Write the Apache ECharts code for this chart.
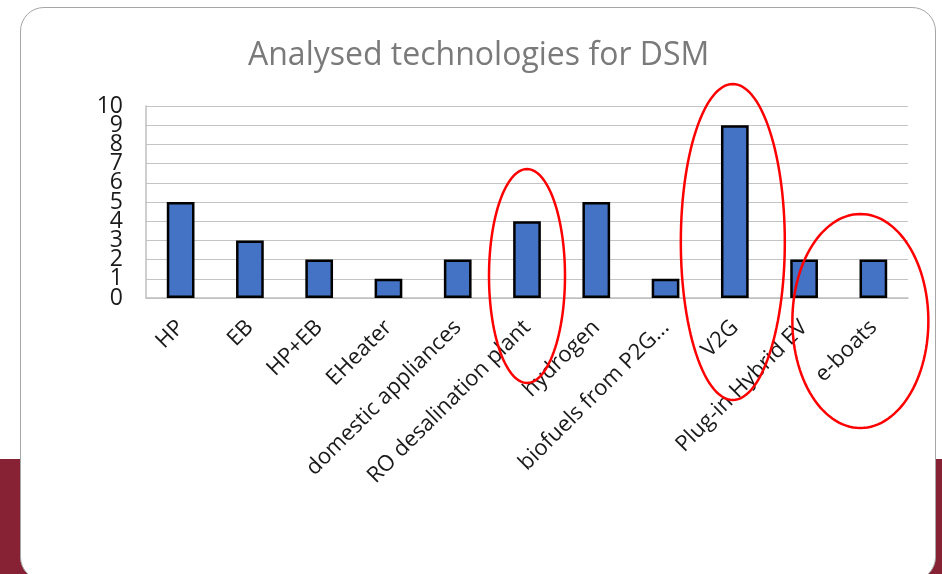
<!DOCTYPE html>
<html><head><meta charset="utf-8">
<script src="https://cdn.jsdelivr.net/npm/echarts@6/dist/echarts.min.js"></script>
<style>
html,body{margin:0;padding:0;width:942px;height:574px;overflow:hidden;background:#fff;}
#band{position:absolute;left:0;top:459px;width:942px;height:115px;background:#862234;}
#card{position:absolute;left:20px;top:7px;width:916px;height:574px;background:#fff;border:1.5px solid #a6a6a6;border-radius:24px;box-sizing:border-box;}
#chart{position:absolute;left:0;top:0;width:942px;height:574px;}
</style></head><body>
<div id="band"></div><div id="card"></div><div id="chart"></div>
<script>
// ---- data ----
const titleText = 'Analysed technologies for DSM';
const categories = ['HP', 'EB', 'HP+EB', 'EHeater', 'domestic appliances', 'RO desalination plant', 'hydrogen', 'biofuels from P2G...', 'V2G', 'Plug-in Hybrid EV', 'e-boats'];
const values = [5, 3, 2, 1, 2, 4, 5, 1, 9, 2, 2];
const yMin = 0, yMax = 10, yStep = 1;
const yTickLabels = ['0', '1', '2', '3', '4', '5', '6', '7', '8', '9', '10'];
// highlighted categories (red annotation ellipses)
const highlighted = ['RO desalination plant', 'V2G', 'e-boats'];

// ---- styling for annotation ellipses (pixel geometry, not data) ----
const ellipseStyle = {
  'RO desalination plant': {dx: 0, cy: 276, rx: 38, ry: 107},
  'V2G': {dx: -2, cy: 242, rx: 52, ry: 158},
  'e-boats': {dx: -13, cy: 321, rx: 68, ry: 107}
};
const gridLeft = 146;

const chart = echarts.init(document.getElementById('chart'), null, {renderer: 'canvas'});
const font = '"Open Sans", "Noto Sans", sans-serif';
chart.setOption({
  backgroundColor: 'transparent',
  animation: false,
  title: {
    text: titleText, left: 243, top: 35,
    textStyle: {fontFamily: font, fontSize: 32, fontWeight: 'normal', color: '#7a7a7a'}
  },
  grid: {left: gridLeft, right: 34, top: 106, bottom: 276, containLabel: false},
  xAxis: {
    type: 'category', data: categories,
    axisLine: {show: true, lineStyle: {color: '#bfbfbf', width: 1.5}},
    axisTick: {show: false},
    axisLabel: {rotate: 45, margin: 26, interval: 0, hideOverlap: false, fontFamily: font, fontSize: 22, color: '#1a1a1a'}
  },
  yAxis: {
    type: 'value', min: yMin, max: yMax, interval: yStep,
    axisLine: {show: true, lineStyle: {color: '#bfbfbf', width: 1.5}},
    axisTick: {show: false},
    splitLine: {lineStyle: {color: '#c4c4c4', width: 1.2}},
    axisLabel: {show: false}
  },
  series: [{
    type: 'bar', data: values, barWidth: '40%',
    itemStyle: {color: '#4472c4', borderColor: '#000', borderWidth: 2.5}
  }]
});

// y tick labels (drawn as text at the axis scale positions; they overlap as in the original)
const elements = yTickLabels.map(function (lab) {
  const y = chart.convertToPixel({yAxisIndex: 0}, Number(lab));
  return {type: 'text', x: gridLeft - 23, y: y, z: 50,
    style: {text: lab, fontFamily: font, fontSize: 23, fill: '#1a1a1a', align: 'right', verticalAlign: 'middle'}};
});

// annotation ellipses placed relative to the category positions
highlighted.forEach(function (cat) {
  const s = ellipseStyle[cat];
  const cx = chart.convertToPixel({xAxisIndex: 0}, cat) + s.dx;
  const pts = [];
  for (let i = 0; i < 120; i++) {
    const a = i / 120 * Math.PI * 2;
    pts.push([cx + s.rx * Math.cos(a), s.cy + s.ry * Math.sin(a)]);
  }
  elements.push({type: 'polygon', shape: {points: pts}, z: 100,
    style: {fill: 'none', stroke: '#ff0000', lineWidth: 2.5}});
});
chart.setOption({graphic: {elements: elements}});
</script>
</body></html>
